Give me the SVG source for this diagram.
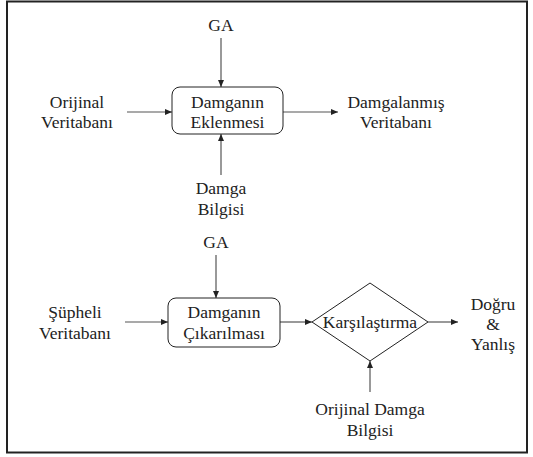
<svg xmlns="http://www.w3.org/2000/svg" width="533" height="457" viewBox="0 0 533 457">
<style>
.t{font-size:17.5px;fill:#222;text-anchor:middle}
.box{fill:#fff;stroke:#222;stroke-width:1}
.c{stroke:#555;stroke-width:1.2;fill:none;marker-end:url(#ah)}
</style>
<defs>
<marker id="ah" markerWidth="8" markerHeight="8" refX="7" refY="4" orient="auto" markerUnits="userSpaceOnUse">
<path d="M0,1 L7,4 L0,7 Z" fill="#222"/>
</marker>
</defs>
<rect x="0" y="0" width="533" height="457" fill="#fff"/>
<rect x="7" y="1.5" width="520" height="451" fill="none" stroke="#222" stroke-width="2"/>
<g id="connectors">
<line class="c" x1="221" y1="38" x2="221" y2="87"/>
<line class="c" x1="127" y1="112" x2="172" y2="112"/>
<line class="c" x1="283" y1="112" x2="338" y2="112"/>
<line class="c" x1="221" y1="175" x2="221" y2="134"/>
<line class="c" x1="216" y1="255" x2="216" y2="298"/>
<line class="c" x1="125" y1="322" x2="168" y2="322"/>
<line class="c" x1="280" y1="322" x2="312" y2="322"/>
<line class="c" x1="428" y1="322" x2="458" y2="322"/>
<line class="c" x1="370" y1="392" x2="370" y2="361"/>
</g>
<g class="t" font-family="Liberation Serif, Times New Roman, DejaVu Serif, serif">
<g id="ga1"><text x="221" y="31">GA</text></g>
<g id="orijinal"><text x="77" y="108">Orijinal</text><text x="77" y="128">Veritabanı</text></g>
<g id="ekleme"><rect class="box" x="172" y="87" width="111" height="47" rx="8"/><text x="227.5" y="108">Damganın</text><text x="227.5" y="128">Eklenmesi</text></g>
<g id="damgali"><text x="396" y="108">Damgalanmış</text><text x="396" y="128">Veritabanı</text></g>
<g id="damga"><text x="221" y="194">Damga</text><text x="221" y="215">Bilgisi</text></g>
<g id="ga2"><text x="216" y="248">GA</text></g>
<g id="supheli"><text x="75" y="318">Şüpheli</text><text x="75" y="339">Veritabanı</text></g>
<g id="cikarma"><rect class="box" x="168" y="298" width="112" height="49" rx="8"/><text x="224" y="318">Damganın</text><text x="224" y="339">Çıkarılması</text></g>
<g id="karsilastirma"><polygon class="box" points="370,283 428,322 370,361 312,322"/><text x="370" y="328">Karşılaştırma</text></g>
<g id="sonuc"><text x="493" y="310">Doğru</text><text x="493" y="330">&amp;</text><text x="493" y="350">Yanlış</text></g>
<g id="orijinaldamga"><text x="370" y="415">Orijinal Damga</text><text x="370" y="436">Bilgisi</text></g>
</g>
</svg>
